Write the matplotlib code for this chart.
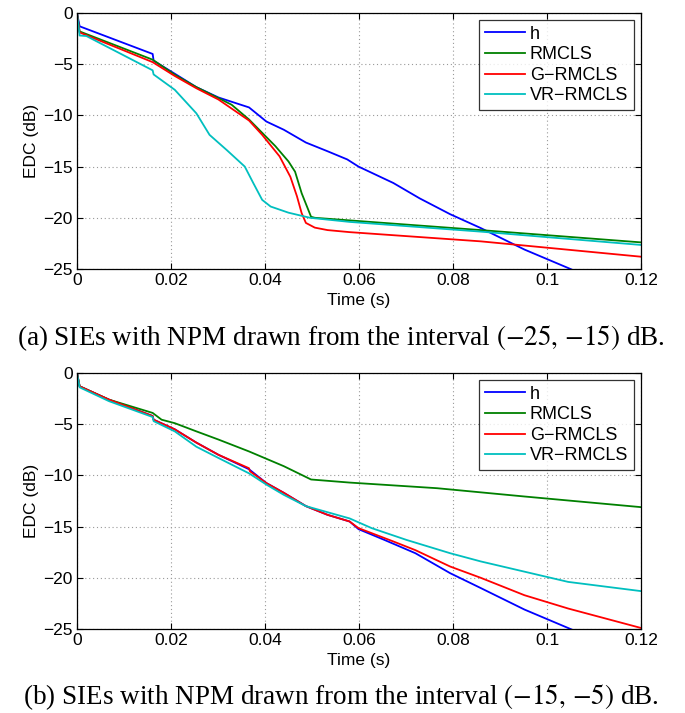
import numpy as np
import matplotlib
matplotlib.use("Agg")
import matplotlib.pyplot as plt

plt.rcParams["font.family"] = ["Liberation Sans", "DejaVu Sans"]
plt.rcParams["mathtext.fontset"] = "stix"

# ----------------------------
# Data (time in s, EDC in dB)
# ----------------------------
# (a) NPM from (-25, -15) dB
a_h_t = [0, 0.00056, 0.0161, 0.0163, 0.0208, 0.0254, 0.0301, 0.0366, 0.0403, 0.0440,
         0.0487, 0.0533, 0.0575, 0.0599, 0.0673, 0.0729, 0.0794, 0.0859, 0.0952, 0.1050, 0.12]
a_h_y = [0, -1.3, -4.0, -4.66, -5.93, -7.24, -8.25, -9.22, -10.6, -11.4,
         -12.65, -13.5, -14.3, -15.0, -16.6, -18.1, -19.65, -21.0, -23.1, -25.0, -28.2]

a_rm_t = [0, 0.00056, 0.0161, 0.0208, 0.0254, 0.0301, 0.0329, 0.0366, 0.0394, 0.0422,
          0.0450, 0.0464, 0.0478, 0.0498, 0.0506, 0.0859, 0.12]
a_rm_y = [0, -1.8, -4.56, -6.03, -7.24, -8.31, -8.96, -10.4, -11.7, -13.0,
          -14.5, -15.5, -17.6, -19.9, -20.0, -21.2, -22.4]

a_grm_t = [0, 0.00056, 0.0161, 0.0208, 0.0254, 0.0301, 0.0366, 0.0394, 0.0431, 0.0454,
           0.0468, 0.0478, 0.0487, 0.0506, 0.0533, 0.0580, 0.0859, 0.12]
a_grm_y = [0, -1.9, -4.8, -6.15, -7.35, -8.45, -10.5, -11.9, -14.0, -16.0,
           -17.9, -19.55, -20.5, -20.96, -21.2, -21.4, -22.3, -23.8]

a_vr_t = [0, 0.00056, 0.002, 0.0161, 0.0163, 0.0208, 0.0254, 0.0282, 0.0319, 0.0357,
          0.0375, 0.0394, 0.0412, 0.0450, 0.0496, 0.0580, 0.0859, 0.12]
a_vr_y = [0, -2.2, -2.25, -5.6, -6.0, -7.5, -9.8, -11.9, -13.4, -15.0,
          -16.6, -18.25, -18.9, -19.5, -20.0, -20.4, -21.35, -22.65]

# (b) NPM from (-15, -5) dB
b_h_t = [0, 0.00056, 0.0068, 0.0161, 0.0163, 0.0208, 0.0254, 0.0301, 0.0366, 0.0403,
         0.0440, 0.0487, 0.0533, 0.0580, 0.0599, 0.0654, 0.0720, 0.0794, 0.0859, 0.0952, 0.1050, 0.12]
b_h_y = [0, -1.3, -2.6, -4.2, -4.56, -5.5, -6.8, -7.99, -9.4, -10.75,
         -11.7, -13.0, -13.85, -14.5, -15.25, -16.3, -17.6, -19.55, -21.0, -23.1, -25.0, -28.0]

b_rm_t = [0, 0.00056, 0.0068, 0.0161, 0.0180, 0.0208, 0.0254, 0.0301, 0.0366, 0.0440,
          0.0498, 0.0580, 0.0766, 0.0952, 0.12]
b_rm_y = [0, -1.3, -2.6, -3.9, -4.56, -4.9, -5.7, -6.5, -7.66, -9.1,
          -10.4, -10.7, -11.25, -12.06, -13.1]

b_grm_t = [0, 0.00056, 0.0068, 0.0161, 0.0163, 0.0208, 0.0254, 0.0301, 0.0366, 0.0368,
           0.0403, 0.0440, 0.0487, 0.0533, 0.0580, 0.0599, 0.0673, 0.0720, 0.0794,
           0.0859, 0.0952, 0.1045, 0.12]
b_grm_y = [0, -1.3, -2.6, -4.2, -4.56, -5.5, -6.8, -7.99, -9.3, -9.6,
           -10.75, -11.7, -13.0, -13.85, -14.5, -15.15, -16.45, -17.3, -18.9,
           -20.0, -21.7, -23.0, -24.9]

b_vr_t = [0, 0.00056, 0.0068, 0.0161, 0.0163, 0.0208, 0.0254, 0.0301, 0.0366, 0.0403,
          0.0440, 0.0487, 0.0580, 0.0627, 0.0701, 0.0794, 0.0859, 0.0952, 0.1045, 0.12]
b_vr_y = [0, -1.4, -2.75, -4.3, -4.7, -5.7, -7.2, -8.3, -9.8, -10.9,
          -11.9, -13.0, -14.2, -15.15, -16.3, -17.6, -18.4, -19.4, -20.4, -21.3]

labels = ["h", "RMCLS", "G\u2212RMCLS", "VR\u2212RMCLS"]
colors = ["#0000ff", "#008000", "#ff0000", "#00bfbf"]

captions = [
    r"(a) SIEs with NPM drawn from the interval $(-25,\,{-15})$ dB.",
    r"(b) SIEs with NPM drawn from the interval $(-15,\,{-5})$ dB.",
]

panels = [
    [(a_h_t, a_h_y), (a_rm_t, a_rm_y), (a_grm_t, a_grm_y), (a_vr_t, a_vr_y)],
    [(b_h_t, b_h_y), (b_rm_t, b_rm_y), (b_grm_t, b_grm_y), (b_vr_t, b_vr_y)],
]

# ----------------------------
# Figure
# ----------------------------
fig = plt.figure(figsize=(6.85, 7.13), dpi=100)
W, H = 685.0, 713.0

axes_boxes = [(77, 13, 641, 269), (77, 373, 641, 629)]
caption_y = [338, 697]
xlabel_y = [301, 661]

for i, (box, series) in enumerate(zip(axes_boxes, panels)):
    x0, y0, x1, y1 = box
    ax = fig.add_axes([x0 / W, 1 - y1 / H, (x1 - x0) / W, (y1 - y0) / H])
    for (t, y), lab, c in zip(series, labels, colors):
        ax.plot(t, y, color=c, linewidth=1.3, label=lab)

    ax.set_xlim(0, 0.12)
    ax.set_ylim(-25, 0)
    ax.set_xticks([0, 0.02, 0.04, 0.06, 0.08, 0.1, 0.12])
    ax.set_xticklabels(["0", "0.02", "0.04", "0.06", "0.08", "0.1", "0.12"])
    ax.set_yticks([-25, -20, -15, -10, -5, 0])
    ax.tick_params(direction="in", top=True, right=True, labelsize=12.5,
                   length=4, width=0.8, pad=3)
    ax.grid(True, linestyle=(0, (1, 2.5)), color="#999999", linewidth=0.8)
    for sp in ax.spines.values():
        sp.set_linewidth(0.9)

    ax.set_ylabel("EDC (dB)", fontsize=12.5, labelpad=3)
    fig.text(0.5 * (x0 + x1) / W, 1 - xlabel_y[i] / H, "Time (s)",
             ha="center", va="center", fontsize=12.5)

    leg = ax.legend(loc="upper right", fontsize=13, frameon=True, fancybox=False,
                    borderaxespad=0.4, handlelength=2.2, labelspacing=0.2,
                    borderpad=0.3, handletextpad=0.3)
    leg.get_frame().set_edgecolor("black")
    leg.get_frame().set_linewidth(0.9)

    fig.text(341 / W, 1 - caption_y[i] / H, captions[i], ha="center", va="center",
             fontsize=19.5, family=["Liberation Serif", "DejaVu Serif"])

fig.savefig("out.png", dpi=100)
